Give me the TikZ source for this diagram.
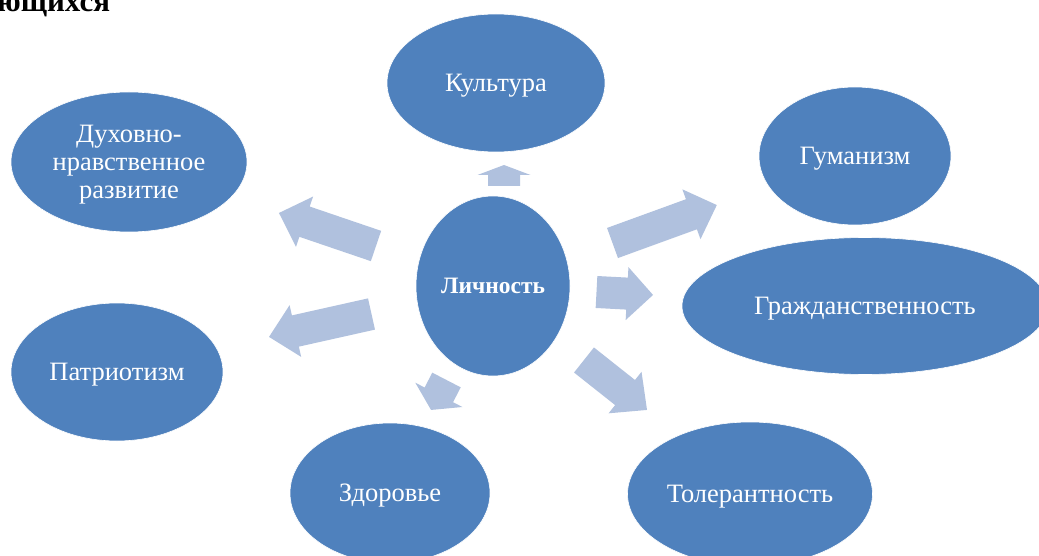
\documentclass[tikz,border=0pt]{standalone}
\usepackage{fontspec}
\setmainfont{Liberation Serif}
\usetikzlibrary{shapes.geometric}
\definecolor{ellblue}{RGB}{79,129,189}
\definecolor{arrblue}{RGB}{176,193,222}
\tikzset{
  bubble/.style={ellipse, fill=ellblue, draw=white, line width=0.6pt, inner sep=0pt,
    text=white, align=center, text depth=0pt, font=\fontsize{26.5}{28}\selectfont},
}
% block arrow: tail point, angle, total length, head length
\newcommand\BArrow[5]{%
  \begin{scope}[shift={(#1,#2)}, rotate=#3]
    \fill[arrblue] (0,-16) -- ({#4-#5},-16) -- ({#4-#5},-26.5) -- (#4,0)
      -- ({#4-#5},26.5) -- ({#4-#5},16) -- (0,16) -- cycle;
  \end{scope}}
\begin{document}
\begin{tikzpicture}[x=1pt,y=-1pt]
\useasboundingbox (0,0) rectangle (1039,556);
\clip (0,0) rectangle (1039,556);
\fill[white] (0,0) rectangle (1039,556);

\node[anchor=base west, inner sep=0pt, font=\fontsize{31}{33}\selectfont\bfseries] (title) at (-3,12) {ющихся};

% arrows
\BArrow{504}{186}{90}{21}{10}
\BArrow{376}{246}{161.2}{102.5}{27}
\BArrow{371.5}{314}{192.6}{105}{27}
\BArrow{446.5}{380}{-117.3}{33.7}{17}
\BArrow{612.5}{243}{20}{111}{27}
\BArrow{596.5}{292}{-3}{56.6}{26}
\BArrow{584}{360}{-38.4}{80.4}{28}

% ellipses
\node[bubble, minimum width=218pt, minimum height=138pt] (kult) at (496,83) {Культура};
\node[bubble, minimum width=154pt, minimum height=180pt, font=\fontsize{23.5}{26}\selectfont\bfseries] (lich) at (493,286) {Личность};
\node[bubble, minimum width=236pt, minimum height=140pt] (duh) at (129,162) {Духовно-\\нравственное\\развитие};
\node[bubble, minimum width=192pt, minimum height=138pt] (gum) at (855,156) {Гуманизм};
\node[bubble, minimum width=366pt, minimum height=137pt] (grazh) at (865,306) {Гражданственность};
\node[bubble, minimum width=212pt, minimum height=138pt] (patr) at (117,372) {Патриотизм};
\node[bubble, minimum width=200pt, minimum height=140pt] (zdor) at (390,493) {Здоровье};
\node[bubble, minimum width=245pt, minimum height=144pt] (toler) at (750,494) {Толерантность};
\end{tikzpicture}
\end{document}
